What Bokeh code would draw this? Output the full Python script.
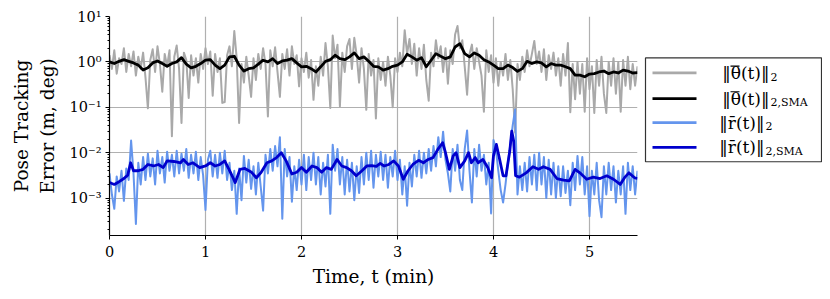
import numpy as np
from bokeh.plotting import figure
from bokeh.layouts import row
from bokeh.models import Range1d, FixedTicker
from bokeh.embed import file_html
from bokeh.resources import INLINE
from bokeh.core.properties import value

# ---------------- data ----------------
DT_RAW = 0.025   # sample spacing of the raw series (min)
DT_SMA = 0.05    # sample spacing of the theta moving average (min)

theta_raw = [
    1.4, 0.7, 1.8, 0.55, 1.2, 0.9, 2.0, 0.6, 1.5, 0.8, 1.7, 0.5, 1.3, 0.7, 1.6, 0.45,
    0.095, 1.1, 1.9, 0.6, 2.2, 0.9, 0.22, 1.5, 0.8, 1.8, 0.023, 1.3, 2.3, 0.7, 0.045, 1.6,
    1.1, 0.16, 1.4, 0.5, 1.2, 0.35, 1.5, 0.7, 2.0, 0.9, 1.7, 0.18, 1.5, 0.6, 1.2, 0.125,
    0.13, 1.4, 2.2, 0.8, 4.8, 1.2, 0.045, 0.9, 0.35, 1.3, 0.5, 0.17, 1.2, 0.4, 1.5, 0.7,
    2.0, 0.9, 0.063, 1.8, 0.8, 2.1, 0.6, 0.17, 1.5, 0.7, 1.9, 0.5, 2.2, 0.9, 1.4, 0.29,
    1.2, 0.6, 1.6, 0.45, 1.1, 0.146, 0.8, 0.3, 1.3, 0.5, 2.6, 0.8, 0.097, 3.8, 1.2, 2.4,
    0.104, 1.6, 0.6, 2.2, 3.2, 0.7, 3.4, 1.4, 0.35, 2.0, 0.7, 0.088, 1.5, 0.5, 1.1, 0.057,
    1.2, 0.4, 1.0, 0.3, 1.3, 0.5, 0.1, 1.2, 0.6, 1.6, 0.8, 5.0, 1.5, 3.2, 0.9, 2.5,
    0.5, 2.0, 0.7, 2.4, 0.4, 0.14, 1.6, 0.8, 3.0, 1.2, 2.2, 0.6, 2.0, 0.33, 1.8, 0.9,
    4.0, 6.2, 2.0, 3.0, 0.8, 0.19, 1.5, 2.4, 0.7, 2.0, 1.0, 0.5, 0.08, 1.8, 0.6, 1.4,
    0.35, 1.2, 0.3, 1.0, 0.5, 1.5, 0.4, 1.1, 0.25, 0.028, 0.9, 0.4, 1.3, 0.6, 1.8, 0.8,
    1.5, 2.9, 0.9, 1.7, 0.6, 1.9, 0.4, 1.4, 0.7, 1.6, 0.5, 1.2, 0.3, 1.5, 0.5, 2.6,
    0.078, 0.9, 0.15, 1.0, 0.2, 0.9, 0.08, 1.2, 0.25, 0.8, 0.075, 1.1, 0.3, 1.3, 0.2, 0.075,
    1.0, 0.3, 1.2, 0.2, 1.0, 0.08, 1.1, 0.3, 1.3, 0.25, 0.9, 0.3, 0.8,
]

r_raw = [
    0.0035, 0.0012, 0.00058, 0.003, 0.0014, 0.004, 0.00087, 0.0045, 0.0025, 0.0186, 0.0035, 0.00027,
    0.006, 0.002, 0.008, 0.0025, 0.0095, 0.003, 0.0075, 0.002, 0.011, 0.0035, 0.008, 0.0022,
    0.0105, 0.004, 0.009, 0.003, 0.011, 0.0035, 0.0095, 0.004, 0.012, 0.0028, 0.009, 0.0035,
    0.0105, 0.0025, 0.008, 0.0032, 0.00055, 0.007, 0.011, 0.003, 0.009, 0.0028, 0.01, 0.0035,
    0.011, 0.0025, 0.006, 0.0015, 0.004, 0.00045, 0.0045, 0.0009, 0.0085, 0.0022, 0.007, 0.0016,
    0.005, 0.0012, 0.006, 0.0018, 0.00053, 0.009, 0.0035, 0.012, 0.004, 0.014, 0.005, 0.022,
    0.00035, 0.012, 0.003, 0.008, 0.00083, 0.005, 0.0015, 0.007, 0.002, 0.009, 0.0015, 0.008,
    0.0025, 0.01, 0.002, 0.008, 0.0012, 0.006, 0.0018, 0.009, 0.00045, 0.015, 0.004, 0.012,
    0.002, 0.008, 0.0012, 0.007, 0.0014, 0.006, 0.0009, 0.005, 0.0013, 0.008, 0.002, 0.01,
    0.0025, 0.011, 0.0017, 0.009, 0.003, 0.0105, 0.0025, 0.009, 0.0017, 0.008, 0.003, 0.011,
    0.0025, 0.007, 0.0012, 0.005, 0.00068, 0.006, 0.0018, 0.009, 0.003, 0.011, 0.0028, 0.01,
    0.0035, 0.012, 0.004, 0.014, 0.005, 0.022, 0.008, 0.029, 0.007, 0.0035, 0.0014, 0.012,
    0.004, 0.015, 0.0025, 0.0015, 0.012, 0.031, 0.004, 0.0008, 0.012, 0.003, 0.015, 0.004,
    0.009, 0.002, 0.006, 0.00046, 0.019, 0.012, 0.004, 0.0015, 0.0008, 0.002, 0.006, 0.015,
    0.04, 0.089, 0.0012, 0.005, 0.0015, 0.006, 0.0014, 0.008, 0.002, 0.009, 0.0015, 0.01,
    0.002, 0.008, 0.001, 0.007, 0.0012, 0.006, 0.001, 0.005, 0.0011, 0.005, 0.0013, 0.004,
    0.0007, 0.006, 0.0015, 0.0085, 0.002, 0.008, 0.0012, 0.005, 0.0004, 0.004, 0.0012, 0.006,
    0.0009, 0.00038, 0.005, 0.0012, 0.006, 0.0015, 0.005, 0.0008, 0.004, 0.0012, 0.005, 0.00045,
    0.006, 0.0015, 0.005, 0.0012, 0.004,
]

theta_sma = [
    1.0, 0.92, 1.03, 1.12, 1.03, 0.95, 0.85, 0.66, 0.74, 0.95, 1.05, 0.92, 0.80, 0.92, 1.0, 1.24,
    0.89, 0.74, 0.80, 0.92, 1.09, 1.12, 0.85, 0.71, 0.85, 1.29, 1.33, 0.85, 0.63, 0.71, 0.74, 0.89,
    1.09, 1.0, 1.18, 0.92, 1.05, 1.09, 1.18, 0.95, 0.78, 0.80, 0.71, 0.60, 0.78, 1.03, 1.12, 1.40,
    1.18, 1.12, 1.29, 1.58, 1.18, 1.29, 1.03, 0.80, 0.78, 0.66, 0.71, 0.80, 0.85, 1.0, 1.47, 1.29,
    1.09, 1.24, 0.78, 1.09, 1.52, 1.33, 1.18, 1.29, 2.13, 2.52, 1.52, 1.29, 1.58, 1.40, 1.12, 1.0,
    0.85, 0.71, 0.71, 0.85, 0.75, 0.62, 0.71, 1.03, 0.92, 1.0, 0.95, 0.78, 0.92, 0.85, 0.85, 0.78,
    0.71, 0.51, 0.51, 0.47, 0.54, 0.55, 0.60, 0.63, 0.55, 0.60, 0.57, 0.66, 0.63, 0.57, 0.58,
]

t_r_sma = [
    0.00, 0.05, 0.10, 0.15, 0.19, 0.22, 0.25, 0.30, 0.35, 0.40, 0.46, 0.51, 0.56, 0.60, 0.67, 0.74,
    0.77, 0.82, 0.87, 0.94, 1.00, 1.05, 1.10, 1.15, 1.20, 1.26, 1.31, 1.36, 1.41, 1.48, 1.53, 1.58,
    1.64, 1.69, 1.74, 1.79, 1.84, 1.90, 1.95, 2.00, 2.05, 2.11, 2.16, 2.21, 2.26, 2.31, 2.37, 2.42,
    2.47, 2.52, 2.57, 2.63, 2.68, 2.73, 2.78, 2.82, 2.86, 2.91, 2.96, 3.01, 3.06, 3.11, 3.16, 3.22,
    3.27, 3.32, 3.37, 3.42, 3.47, 3.50, 3.54, 3.58, 3.61, 3.65, 3.70, 3.74, 3.77, 3.81, 3.84, 3.89,
    3.94, 3.98, 4.00, 4.03, 4.06, 4.10, 4.13, 4.17, 4.19, 4.21, 4.23, 4.27, 4.34, 4.41, 4.47, 4.52,
    4.59, 4.66, 4.73, 4.79, 4.85, 4.90, 4.97, 5.04, 5.11, 5.18, 5.25, 5.32, 5.37, 5.41, 5.47, 5.50,
]
r_sma = [
    0.0022, 0.0020, 0.0023, 0.0027, 0.0032, 0.0060, 0.0040, 0.0040, 0.0043, 0.0055, 0.0051, 0.0055,
    0.0047, 0.0066, 0.0064, 0.0060, 0.0071, 0.0055, 0.0060, 0.0047, 0.0051, 0.0060, 0.0051, 0.0055,
    0.0066, 0.0037, 0.0022, 0.0043, 0.0045, 0.0037, 0.0028, 0.0037, 0.0060, 0.0066, 0.0078, 0.0100,
    0.0066, 0.0034, 0.0037, 0.0047, 0.0037, 0.0051, 0.0047, 0.0037, 0.0047, 0.0043, 0.0071, 0.0051,
    0.0047, 0.0040, 0.0031, 0.0040, 0.0051, 0.0052, 0.0050, 0.0058, 0.0051, 0.0055, 0.0066, 0.0051,
    0.0026, 0.0040, 0.0055, 0.0068, 0.0060, 0.0071, 0.0078, 0.0118, 0.0166, 0.0100, 0.0043, 0.0085,
    0.0100, 0.0047, 0.0066, 0.0100, 0.0060, 0.0078, 0.0060, 0.0071, 0.0047, 0.0028, 0.0085, 0.0152,
    0.0078, 0.0031, 0.0031, 0.0110, 0.0300, 0.0180, 0.0031, 0.0029, 0.0036, 0.0049, 0.0043, 0.0049,
    0.0043, 0.0027, 0.0025, 0.0024, 0.0043, 0.0036, 0.0026, 0.0029, 0.0027, 0.0031, 0.0026, 0.0020,
    0.0029, 0.0036, 0.0028, 0.0027,
]

t_raw = [round(i * DT_RAW, 4) for i in range(len(theta_raw))]
t_theta_sma = [round(i * DT_SMA, 4) for i in range(len(theta_sma))]

x_ticks = [0, 1, 2, 3, 4, 5]
y_ticks = [1e-3, 1e-2, 1e-1, 1.0, 10.0]
y_tick_labels = ["10⁻³", "10⁻²", "10⁻¹", "10⁰", "10¹"]

series_colors = ["#a9a9a9", "#000000", "#6495ed", "#0000cd"]
legend_main = ["‖θ(t)‖", "‖θ(t)‖", "‖r̄(t)‖", "‖r̄(t)‖"]
legend_sub = ["2", "2,SMA", "2", "2,SMA"]

SERIF = "DejaVu Serif"

# ---------------- main plot ----------------
p = figure(
    frame_width=528, frame_height=219,
    y_axis_type="log",
    x_range=Range1d(0, 5.5), y_range=Range1d(1.5e-4, 10),
    output_backend="svg", toolbar_location=None,
    min_border_left=109, min_border_right=3, min_border_top=16, min_border_bottom=56,
)
p.outline_line_color = None
p.background_fill_color = "white"
p.border_fill_color = "white"

lw = [2.0, 2.8, 2.0, 2.8]
p.line(t_raw, theta_raw, color=series_colors[0], line_width=lw[0], line_join="round")
p.line(t_theta_sma, theta_sma, color=series_colors[1], line_width=lw[1], line_join="round")
p.line(t_raw, r_raw, color=series_colors[2], line_width=lw[2], line_join="round")
p.line(t_r_sma, r_sma, color=series_colors[3], line_width=lw[3], line_join="round")

minor = [m * 10.0 ** k for k in range(-4, 1) for m in range(2, 10)]
p.yaxis.ticker = FixedTicker(ticks=y_ticks, minor_ticks=minor)
p.xaxis.ticker = FixedTicker(ticks=x_ticks, minor_ticks=[])
p.yaxis.major_label_overrides = dict(zip(y_ticks, y_tick_labels))

for g in (p.xgrid, p.ygrid):
    g.grid_line_color = "#b0b0b0"
    g.grid_line_width = 1.2

for ax in (p.xaxis, p.yaxis):
    ax.axis_line_color = "black"
    ax.axis_line_width = 1.2
    ax.major_tick_line_color = "black"
    ax.major_tick_out = 4
    ax.major_tick_in = 0
    ax.minor_tick_line_color = "black"
    ax.minor_tick_out = 2
    ax.minor_tick_in = 0
    ax.major_label_text_font = SERIF
    ax.major_label_text_font_size = "14.5px"
    ax.major_label_text_color = "black"
    ax.axis_label_text_font = SERIF
    ax.axis_label_text_font_size = "18.5px"
    ax.axis_label_text_font_style = "normal"
    ax.axis_label_text_color = "black"

p.xaxis.axis_label = "Time, t (min)"
p.xaxis.major_label_standoff = 6
p.xaxis.axis_label_standoff = 6
p.yaxis.axis_label = "Pose Tracking\nError (m, deg)"
p.yaxis.major_label_standoff = 4
p.yaxis.axis_label_standoff = 9
p.yaxis.axis_label_text_align = "center"

# ---------------- legend panel ----------------
lg = figure(
    width=182, height=291,
    x_range=Range1d(640, 822), y_range=Range1d(291, 0),
    output_backend="svg", toolbar_location=None,
    min_border=0, x_axis_location=None, y_axis_location=None,
)
lg.outline_line_color = None
lg.grid.visible = False
lg.quad(left=645, right=821, top=55, bottom=193, fill_color="white",
        line_color="#333333", line_width=1.2)

rows_y = [75, 109, 141, 174]
anchor_x = [769, 769, 764, 764]
lg.segment(x0=[652] * 4, x1=[696] * 4, y0=rows_y, y1=rows_y,
           line_color=series_colors, line_width=2.8)
lg.text(x=anchor_x, y=rows_y, text=legend_main, text_font=value(SERIF),
        text_font_size="17px", text_align="right", text_baseline="middle",
        text_color="black")
lg.text(x=[a + 1 for a in anchor_x], y=[y + 5 for y in rows_y], text=legend_sub,
        text_font=value(SERIF), text_font_size="11px", text_align="left",
        text_baseline="middle", text_color="black")
# overbar on theta (first two legend rows)
bar_y = [rows_y[0] - 9, rows_y[1] - 9]
lg.segment(x0=[anchor_x[0] - 39] * 2, x1=[anchor_x[0] - 30] * 2, y0=bar_y, y1=bar_y,
           line_color="black", line_width=1.2)

layout = row(p, lg, spacing=0)

open("out.html", "w").write(file_html(layout, INLINE))
